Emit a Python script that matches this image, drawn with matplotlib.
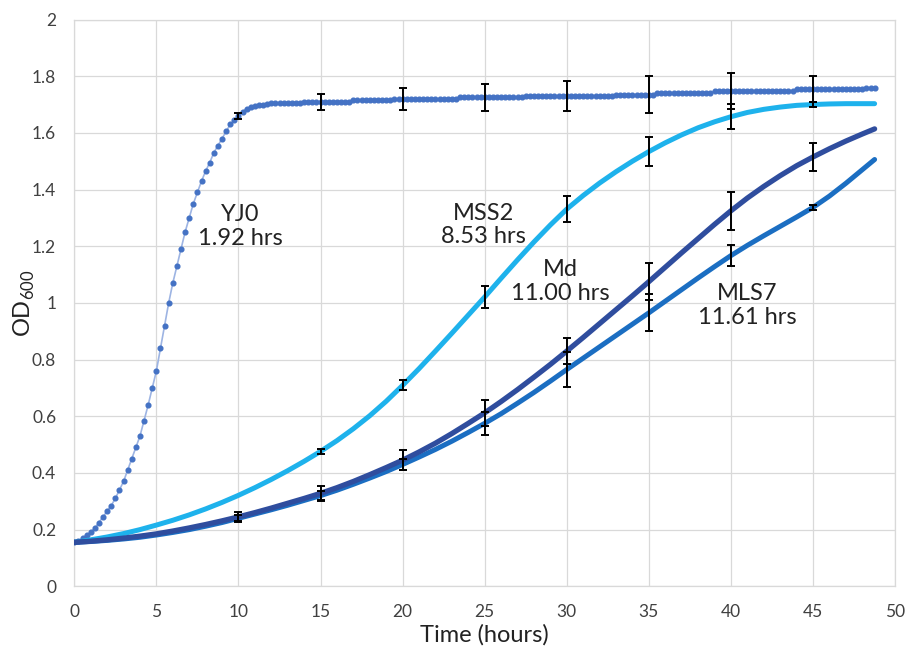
import numpy as np
import matplotlib
matplotlib.use("Agg")
import matplotlib.pyplot as plt

plt.rcParams["font.family"] = ["Lato", "DejaVu Sans"]

# --- data ------------------------------------------------------------------
# YJ0: one reading every 0.25 h, 0 .. 48.75 h
yj0_od = [
    0.155, 0.160, 0.170, 0.180, 0.190, 0.205, 0.225, 0.245,
    0.265, 0.285, 0.310, 0.340, 0.370, 0.410, 0.450, 0.490,
    0.530, 0.585, 0.640, 0.700, 0.760, 0.840, 0.920, 1.000,
    1.070, 1.130, 1.190, 1.250, 1.300, 1.350, 1.390, 1.430,
    1.465, 1.495, 1.530, 1.555, 1.580, 1.605, 1.630, 1.645,
    1.660, 1.675, 1.685, 1.690, 1.695, 1.700, 1.700, 1.703,
    1.705, 1.705, 1.705, 1.705, 1.705, 1.705, 1.705, 1.705,
    1.710, 1.710, 1.710, 1.710, 1.710, 1.710, 1.710, 1.710,
    1.710, 1.710, 1.710, 1.710, 1.715, 1.715, 1.715, 1.715,
    1.715, 1.715, 1.715, 1.715, 1.715, 1.715, 1.720, 1.720,
    1.720, 1.720, 1.720, 1.720, 1.720, 1.720, 1.720, 1.720,
    1.720, 1.720, 1.720, 1.720, 1.720, 1.720, 1.725, 1.725,
    1.725, 1.725, 1.725, 1.725, 1.725, 1.725, 1.725, 1.725,
    1.725, 1.725, 1.725, 1.725, 1.725, 1.725, 1.730, 1.730,
    1.730, 1.730, 1.730, 1.730, 1.730, 1.730, 1.730, 1.730,
    1.730, 1.730, 1.730, 1.730, 1.730, 1.730, 1.730, 1.730,
    1.730, 1.730, 1.730, 1.730, 1.735, 1.735, 1.735, 1.735,
    1.735, 1.735, 1.735, 1.735, 1.735, 1.735, 1.742, 1.742,
    1.742, 1.742, 1.742, 1.742, 1.742, 1.742, 1.742, 1.742,
    1.742, 1.742, 1.742, 1.742, 1.748, 1.748, 1.748, 1.748,
    1.748, 1.748, 1.748, 1.748, 1.748, 1.748, 1.748, 1.748,
    1.748, 1.748, 1.748, 1.748, 1.748, 1.748, 1.748, 1.748,
    1.755, 1.755, 1.755, 1.755, 1.755, 1.755, 1.755, 1.755,
    1.755, 1.755, 1.755, 1.755, 1.755, 1.755, 1.755, 1.755,
    1.755, 1.757, 1.758, 1.760,
]
yj0_hours = np.arange(len(yj0_od)) * 0.25

# other strains: hourly readings 0 .. 48 h, plus the last one at 48.75 h
hours = list(range(49)) + [48.75]
mss2_od = [
    0.155, 0.164, 0.174, 0.186, 0.200, 0.216, 0.233, 0.252, 0.273, 0.296,
    0.321, 0.348, 0.377, 0.408, 0.441, 0.476, 0.514, 0.556, 0.602, 0.653,
    0.709, 0.768, 0.830, 0.893, 0.957, 1.021, 1.087, 1.152, 1.215, 1.275,
    1.331, 1.379, 1.423, 1.463, 1.500, 1.534, 1.565, 1.593, 1.618, 1.639,
    1.657, 1.672, 1.683, 1.691, 1.697, 1.700, 1.702, 1.703, 1.703, 1.703,
]
md_od = [
    0.155, 0.159, 0.164, 0.170, 0.177, 0.185, 0.195, 0.206, 0.218, 0.231,
    0.245, 0.260, 0.276, 0.293, 0.310, 0.328, 0.348, 0.370, 0.394, 0.419,
    0.445, 0.474, 0.505, 0.539, 0.575, 0.612, 0.652, 0.694, 0.738, 0.783,
    0.830, 0.878, 0.927, 0.976, 1.025, 1.075, 1.126, 1.177, 1.227, 1.277,
    1.325, 1.370, 1.411, 1.449, 1.484, 1.515, 1.544, 1.571, 1.596, 1.614,
]
mls7_od = [
    0.155, 0.158, 0.162, 0.167, 0.173, 0.181, 0.190, 0.200, 0.212, 0.225,
    0.240, 0.255, 0.270, 0.286, 0.303, 0.320, 0.339, 0.360, 0.382, 0.405,
    0.430, 0.456, 0.483, 0.512, 0.543, 0.575, 0.609, 0.646, 0.684, 0.724,
    0.765, 0.805, 0.845, 0.885, 0.925, 0.965, 1.006, 1.047, 1.088, 1.128,
    1.167, 1.203, 1.237, 1.270, 1.303, 1.337, 1.377, 1.422, 1.470, 1.506,
]

# standard deviations shown every 5 h (0 = no bar drawn)
err_hours = [10, 15, 20, 25, 30, 35, 40, 45]
yj0_sd = [0.010, 0.028, 0.040, 0.047, 0.053, 0.064, 0.063, 0.045]
mss2_sd = [0.000, 0.008, 0.018, 0.040, 0.047, 0.050, 0.045, 0.010]
md_sd = [0.018, 0.026, 0.035, 0.045, 0.045, 0.066, 0.067, 0.048]
mls7_sd = [0.010, 0.015, 0.020, 0.040, 0.060, 0.065, 0.038, 0.010]

labels = ["YJ0\n1.92 hrs", "MSS2\n8.53 hrs", "Md\n11.00 hrs", "MLS7\n11.61 hrs"]
label_pos = [(10.1, 1.27), (24.9, 1.275), (29.6, 1.075), (41.0, 0.99)]

# --- plot ------------------------------------------------------------------
fig = plt.figure(figsize=(9.06, 6.5), dpi=100)
ax = fig.add_axes([0.082, 0.098, 0.906, 0.872])

grid_c = "#D9D9D9"
ax.plot(yj0_hours, yj0_od, color="#9DB4E3", lw=1.2, zorder=2)
ax.plot(yj0_hours, yj0_od, ls="none", marker="o", ms=3.4,
        color="#4472C4", zorder=3)
ax.plot(hours, mss2_od, color="#1EB2EC", lw=3.6,
        solid_capstyle="round", zorder=3)
ax.plot(hours, mls7_od, color="#1B6EC2", lw=3.6,
        solid_capstyle="round", zorder=3)
ax.plot(hours, md_od, color="#2F4D9E", lw=3.8,
        solid_capstyle="round", zorder=4)

for t_ser, od_ser, sd in [(yj0_hours, yj0_od, yj0_sd),
                          (hours, mss2_od, mss2_sd),
                          (hours, md_od, md_sd),
                          (hours, mls7_od, mls7_sd)]:
    sd = np.array(sd)
    keep = sd > 0
    x_err = np.array(err_hours)[keep]
    y_at = np.interp(x_err, t_ser, od_ser)
    ax.errorbar(x_err, y_at, yerr=sd[keep], fmt="none", ecolor="black",
                elinewidth=1.4, capsize=3, capthick=1.4, zorder=5)

for txt, (x, y) in zip(labels, label_pos):
    ax.text(x, y, txt, ha="center", va="center", fontsize=17,
            linespacing=1.15, color="#222222", zorder=6)

ax.set_xlim(0, 50)
ax.set_ylim(0, 2)
ax.set_xticks(np.arange(0, 51, 5))
ax.set_yticks(np.arange(0, 2.01, 0.2))
ax.set_yticklabels(["0", "0.2", "0.4", "0.6", "0.8", "1", "1.2", "1.4",
                    "1.6", "1.8", "2"])
ax.tick_params(length=0, labelsize=12.5, colors="#404040")
ax.tick_params(axis="y", pad=13)
ax.tick_params(axis="x", pad=13)
ax.grid(True, color=grid_c, lw=0.9)
ax.set_axisbelow(True)
for s in ax.spines.values():
    s.set_color(grid_c)
    s.set_linewidth(0.9)

ax.set_xlabel("Time (hours)", fontsize=17, color="#222222")
ax.set_ylabel(r"OD$_{\mathregular{600}}$", fontsize=17, color="#222222")
ax.xaxis.set_label_coords(0.5, -0.067)
ax.yaxis.set_label_coords(-0.045, 0.5)

fig.savefig("out.png", dpi=100)
